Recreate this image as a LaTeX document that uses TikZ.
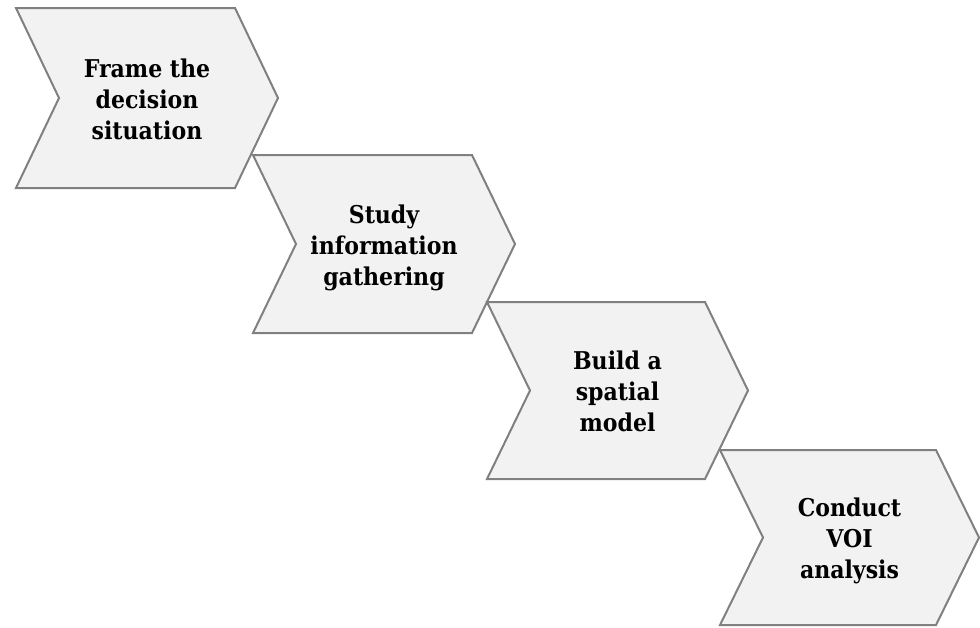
\documentclass[tikz,border=0pt]{standalone}
\usepackage{fontspec}
\setmainfont{DejaVu Serif Condensed}
\definecolor{chevfill}{HTML}{F2F2F2}
\definecolor{chevline}{HTML}{808080}
\tikzset{
  chev/.style={draw=chevline, fill=chevfill, line width=2pt, line join=miter},
  lbl/.style={font=\bfseries\fontsize{24.5}{31}\selectfont, align=center, text=black, inner sep=0pt, anchor=base}
}
% #1 left x, #2 top y (downwards), #3 width, #4 height, #5 node name, #6 label
% the label's anchor is the baseline of its last line
\newcommand\chevronstep[6]{%
  \draw[chev] (#1,-#2) -- ++(#3-43,0) -- ++(43,-#4/2) -- ++(-43,-#4/2)
    -- ++(-#3+43,0) -- ++(43,#4/2) -- cycle;
  \node[lbl] (#5) at (#1+#3/2,-#2-#4/2-41) {#6};
}
\begin{document}
\begin{tikzpicture}[x=1pt,y=1pt]
  \useasboundingbox (0,0) rectangle (980,-627);
  \chevronstep{16}{8}{262}{180}{frame}{Frame the\\decision\\situation}
  \chevronstep{253}{155}{262}{178}{study}{Study\\information\\gathering}
  \chevronstep{487}{302}{261}{177}{build}{Build a\\spatial\\model}
  \chevronstep{720}{450}{259}{175}{voi}{Conduct\\VOI\\analysis}
\end{tikzpicture}
\end{document}
